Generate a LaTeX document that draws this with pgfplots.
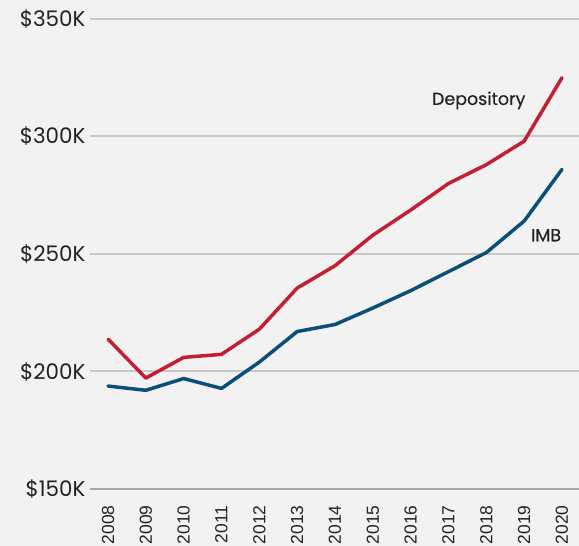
\documentclass[border=0pt]{standalone}
\usepackage{pgfplots}
\pgfplotsset{compat=1.18}
\usepackage{fontspec}
\setmainfont{Liberation Sans}
\newfontfamily\gotham{Poppins}
\definecolor{bg}{HTML}{F2F2F2}
\definecolor{gridc}{HTML}{C8C8C8}
\definecolor{basec}{HTML}{A6A6A6}
\definecolor{redl}{HTML}{C41E33}
\definecolor{bluel}{HTML}{0A4E7A}
\definecolor{txt}{HTML}{222222}
\begin{document}
\begin{tikzpicture}[x=1bp,y=1bp]
\fill[bg] (-90,-57) rectangle (489,489);
\begin{axis}[
  at={(0,0)}, anchor=south west,
  scale only axis, width=489bp, height=470bp,
  xmin=2007.524, xmax=2020.45,
  ymin=150, ymax=350,
  axis line style={draw=none},
  tick style={draw=none},
  ytick={150,200,250,300,350},
  yticklabels={\$150K,\$200K,\$250K,\$300K,\$350K},
  yticklabel style={font=\gotham\fontsize{21.5}{23}\selectfont, text=txt, anchor=east, xshift=-1bp},
  xtick={2008,...,2020},
  xticklabel={\pgfmathprintnumber[1000 sep={}]{\tick}},
  xticklabel style={font=\fontsize{17.5}{19}\selectfont, text=txt, rotate=90, anchor=east, xshift=-13bp},
  /pgf/number format/assume math mode=true,
  ymajorgrids, grid style={gridc, line width=2bp},
  clip=false,
]
\draw[basec, line width=2bp] (axis cs:2007.524,150) -- (axis cs:2020.45,150);
\addplot[redl, line width=3.5bp, line join=round, line cap=round] coordinates {
(2008,213.8) (2009,197.2) (2010,206) (2011,207.3) (2012,218) (2013,235.5) (2014,245) (2015,258) (2016,268.7) (2017,280) (2018,288) (2019,298) (2020,325)};
\addplot[bluel, line width=3.5bp, line join=round, line cap=round] coordinates {
(2008,193.8) (2009,192) (2010,197) (2011,192.8) (2012,204) (2013,217) (2014,220) (2015,227) (2016,234.4) (2017,242.5) (2018,250.6) (2019,264) (2020,286)};
\node[font=\gotham\fontsize{17.5}{19}\selectfont\addfontfeatures{FakeBold=0.3}, text=txt] at (axis cs:2017.8,315.3) {Depository};
\node[font=\gotham\fontsize{17.5}{19}\selectfont\addfontfeatures{FakeBold=0.3}, text=txt] at (axis cs:2019.58,258) {IMB};
\end{axis}
\pgfresetboundingbox
\path (-90,-57) rectangle (489,489);
\end{tikzpicture}
\end{document}
